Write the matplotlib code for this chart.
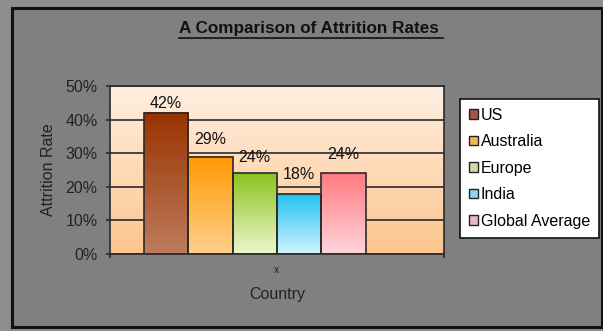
import numpy as np
import matplotlib
matplotlib.use("Agg")
import matplotlib.pyplot as plt
from matplotlib.colors import to_rgb
from matplotlib.patches import Rectangle, Patch
from matplotlib.lines import Line2D

plt.rcParams['font.family'] = ['Liberation Sans', 'DejaVu Sans']

countries = ['US', 'Australia', 'Europe', 'India', 'Global Average']
rates = [42, 29, 24, 18, 24]
top_colors = ['#993300', '#ff9900', '#8cc320', '#22c0f2', '#ff7a80']
bottom_colors = ['#be7c5e', '#ffd08c', '#eef6cf', '#d2f4ff', '#ffd4dc']
legend_colors = ['#a4544a', '#f2b45c', '#cadda2', '#8ad8f0', '#eab6be']
label_offsets = [1, 7, 6, 8, 8]  # points above bar top
yticks = [0, 10, 20, 30, 40, 50]


def gradient(top, bottom, n=128):
    t = np.linspace(0, 1, n)[:, None, None]
    return (1 - t) * np.array(to_rgb(top)) + t * np.array(to_rgb(bottom))


W, H = 603, 331
fig = plt.figure(figsize=(W / 100, H / 100), dpi=100, facecolor='#8e8e8e')

# outer chart frame
fig.add_artist(Rectangle((12 / W, 1 - 327 / H), 590 / W, 319 / H, transform=fig.transFigure,
                         facecolor='#808080', edgecolor='#111111', lw=2.2, zorder=0))

ax = fig.add_axes([110 / W, 1 - 254 / H, 334 / W, 168 / H])
ax.set_zorder(2)

# peach gradient plot area
ax.imshow(gradient('#ffefe2', '#fdc58e'), extent=(0, 1, 0, 1), transform=ax.transAxes,
          aspect='auto', origin='upper', zorder=0)

w = 0.1332
for i, (name, v) in enumerate(zip(countries, rates)):
    x0 = -3 * w + i * w
    ax.imshow(gradient(top_colors[i], bottom_colors[i]), extent=(x0, x0 + w, 0, v),
              aspect='auto', origin='upper', zorder=2)
    ax.add_patch(Rectangle((x0, 0), w, v, facecolor='none', edgecolor='#2a2a2a', lw=1.2, zorder=3))
    ax.annotate(f'{v}%', (x0 + w / 2, v), xytext=(0, label_offsets[i]), textcoords='offset points',
                ha='center', va='bottom', fontsize=11.5, color='#111111', zorder=4)

ax.set_xlim(-0.5, 0.5)
ax.set_ylim(0, 50)
ax.set_yticks(yticks)
ax.set_yticklabels([f'{t}%' for t in yticks])
ax.yaxis.grid(True, color='#2a2a2a', lw=1.2, zorder=1)
ax.set_axisbelow(True)
for gl in ax.get_ygridlines():
    gl.set_zorder(1)
ax.set_xticks([0])
ax.set_xticklabels(['x'])
ax.set_xticks([-0.5, 0.5], minor=True)
ax.tick_params(axis='x', which='major', length=0, pad=8, labelsize=7.5, labelcolor='#222222')
ax.tick_params(axis='x', which='minor', length=3, width=1.2, direction='out', color='#2a2a2a')
ax.tick_params(axis='y', length=3, width=1.2, pad=6, labelsize=11.5, labelcolor='#222222', color='#2a2a2a')
for s in ax.spines.values():
    s.set_color('#2a2a2a')
    s.set_linewidth(1.2)
    s.set_zorder(5)

ax.set_ylabel('Attrition Rate', fontsize=11.5, color='#222222', labelpad=7)
ax.set_xlabel('Country', fontsize=11.5, color='#222222', labelpad=8.5)

handles = [Patch(facecolor=c, edgecolor='#222222', lw=1) for c in legend_colors]
leg = fig.legend(handles, countries, loc='upper left', bbox_to_anchor=(460 / W, 1 - 99 / H),
                 bbox_transform=fig.transFigure, fontsize=11.5, frameon=True, fancybox=False,
                 edgecolor='#111111', facecolor='white', framealpha=1, handlelength=0.55,
                 handleheight=0.55, handletextpad=0.2, labelspacing=0.72, borderpad=0.55,
                 borderaxespad=0, shadow=False)
leg.get_frame().set_linewidth(1.2)

title = fig.text(309 / W, 1 - 29 / H, 'A Comparison of Attrition Rates', ha='center', va='center',
                 fontsize=12.3, fontweight='bold', color='#111111')

# underline for the title
fig.canvas.draw()
bb = title.get_window_extent(fig.canvas.get_renderer())
uy = bb.y0 - 1
fig.add_artist(Line2D([bb.x0 / W, (bb.x1 + 4) / W], [uy / H, uy / H], transform=fig.transFigure,
                      color='#111111', lw=1.2))

fig.savefig('out.png', dpi=100, facecolor=fig.get_facecolor())
